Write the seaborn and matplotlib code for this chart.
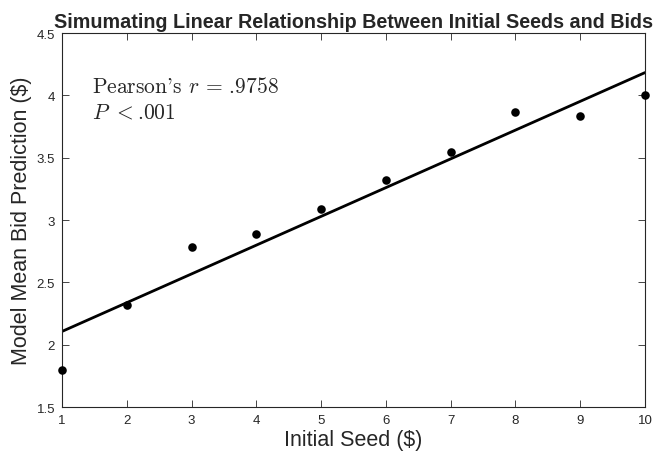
import numpy as np
import pandas as pd
import seaborn as sns
import matplotlib.pyplot as plt

# values
seeds = [1, 2, 3, 4, 5, 6, 7, 8, 9, 10]
mean_bids = [1.80, 2.32, 2.785, 2.885, 3.085, 3.32, 3.545, 3.865, 3.835, 4.005]
pearson_label = "Pearson's $r$ = .9758"
p_label = "$P$ $<$.001"

df = pd.DataFrame({"seed": seeds, "bid": mean_bids})

sns.set_style("white")
plt.rcParams['font.family'] = ['Liberation Sans', 'DejaVu Sans']
plt.rcParams['mathtext.fontset'] = 'cm'

fig = plt.figure(figsize=(6.55, 4.6), dpi=100)
ax = fig.add_axes([0.0947, 0.113, 0.89, 0.813])

sns.regplot(data=df, x="seed", y="bid", ci=None, ax=ax,
            scatter_kws={"s": 38, "color": "black", "alpha": 1,
                         "clip_on": False, "zorder": 3, "linewidths": 0},
            line_kws={"color": "black", "lw": 2})

ax.set_xlim(1, 10)
ax.set_ylim(1.5, 4.5)
ax.set_xticks(range(1, 11))
ax.set_yticks([1.5, 2, 2.5, 3, 3.5, 4, 4.5])
ax.set_yticklabels(["1.5", "2", "2.5", "3", "3.5", "4", "4.5"])
ax.tick_params(direction="in", length=5, width=0.6, top=True, right=True,
               labelsize=9.5, labelcolor="#262626", color="#262626", pad=5,
               bottom=True, left=True)
for s in ax.spines.values():
    s.set_color("#262626")
    s.set_linewidth(0.8)

ax.set_xlabel("Initial Seed ($)", fontsize=15.5, color="#262626", labelpad=2)
ax.set_ylabel("Model Mean Bid Prediction ($)", fontsize=15.5, color="#262626", labelpad=3)
ax.set_title("Simumating Linear Relationship Between Initial Seeds and Bids",
             fontsize=14.2, fontweight="bold", pad=4)

# text parts in cmr10 so they look like the LaTeX annotation
ax.text(1.47, 4.075, pearson_label, fontsize=15.5, family="cmr10", va="center")
ax.text(1.47, 3.87, p_label, fontsize=15.5, family="cmr10", va="center")

fig.savefig("out.png", dpi=100)
